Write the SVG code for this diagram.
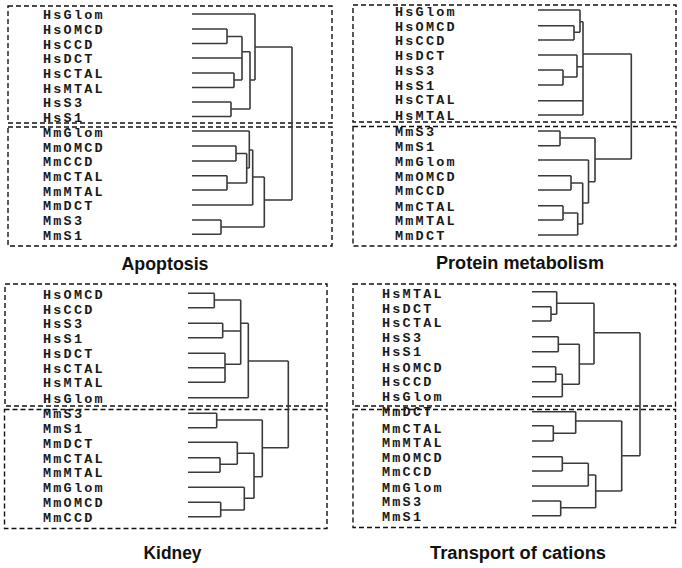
<svg xmlns="http://www.w3.org/2000/svg" width="682" height="568" viewBox="0 0 682 568">
<style>
.box{fill:none;stroke:#111;stroke-width:1.4;stroke-dasharray:5,3}
.tree{fill:none;stroke:#3a3a3a;stroke-width:1.6}
.lb{font-family:"Liberation Mono",monospace;font-weight:bold;font-size:13.5px;letter-spacing:2.2px;fill:#1a1a1a}
.tt{font-family:"Liberation Sans",Arial,sans-serif;font-weight:bold;font-size:17.5px;fill:#111;text-anchor:middle}
</style>
<rect width="682" height="568" fill="#fff"/>
<g id="boxes">
<rect class="box" x="8" y="6" width="324" height="117"/>
<rect class="box" x="8" y="127" width="324" height="119"/>
<rect class="box" x="353" y="5" width="323" height="117"/>
<rect class="box" x="353" y="126.5" width="323" height="119.5"/>
<rect class="box" x="5" y="284" width="322" height="122"/>
<rect class="box" x="4.5" y="409.5" width="322.5" height="119"/>
<rect class="box" x="353" y="284" width="322.5" height="122"/>
<rect class="box" x="353" y="409.5" width="322.5" height="118"/>
</g>
<g id="connectors" class="tree">
<path d="M192,14H255 M192,29H227 M192,43.5H227 M227,29V43.5 M227,36.5H242 M192,58H242 M192,73H234 M192,87.5H234 M234,73V87.5 M234,80H242 M242,36.5V80 M242,51.7H250 M192,102H231 M192,116.5H231 M231,102V116.5 M231,109H250 M250,51.7V109 M250,80H255 M255,14V80 M255,47H292"/>
<path d="M192,131H249.3 M192,146H236 M192,161H236 M236,146V161 M236,153.5H246.7 M192,175.7H227 M192,190H227 M227,175.7V190 M227,183H246.7 M246.7,153.5V183 M246.7,168H249.3 M249.3,131V168 M249.3,150H252.7 M192,205H252.7 M252.7,150V205 M252.7,177H264.3 M192,220H221 M192,234.3H221 M221,220V234.3 M221,227H264.3 M264.3,177V227 M264.3,200H292 M292,47V200"/>
<path d="M538,10H580 M538,25.7H574 M538,40H574 M574,25.7V40 M574,32.3H580 M580,10V32.3 M580,21.7H583 M538,55H577 M538,70H563 M538,85H563 M563,70V85 M563,77H577 M577,55V77 M577,66.7H583 M538,100.7H583 M538,115H583 M583,21.7V115 M583,54H631.3"/>
<path d="M538,131H560 M538,145.7H560 M560,131V145.7 M560,138H595 M538,160H588.5 M538,175.7H571 M538,190H571 M571,175.7V190 M571,183H582.7 M538,205.7H563 M538,220H563 M563,205.7V220 M563,213H577.7 M538,235H577.7 M577.7,213V235 M577.7,224H582.7 M582.7,183V224 M582.7,203H588.5 M588.5,160V203 M588.5,181.7H595 M595,138V181.7 M595,159H631.3 M631.3,54V159"/>
<path d="M188,293.3H214.3 M188,307.7H214.3 M214.3,293.3V307.7 M214.3,300H240.7 M188,323.3H222.7 M188,337.7H222.7 M222.7,323.3V337.7 M222.7,331H240.7 M188,353.3H225 M188,367.7H225 M188,382.3H225 M225,353.3V382.3 M225,364.3H240.7 M240.7,300V364.3 M240.7,323.3H248.3 M188,397.7H248.3 M248.3,323.3V397.7 M248.3,361H288.3"/>
<path d="M188,413.3H216.7 M188,427.7H216.7 M216.7,413.3V427.7 M216.7,420H262.3 M188,442.3H237.3 M188,457.7H220 M188,472.3H220 M220,457.7V472.3 M220,464.3H237.3 M237.3,442.3V464.3 M237.3,453.3H254 M188,487.3H244.3 M188,502.3H220.7 M188,516.7H220.7 M220.7,502.3V516.7 M220.7,510H244.3 M244.3,487.3V510 M244.3,498.3H254 M254,453.3V498.3 M254,476.7H262.3 M262.3,420V476.7 M262.3,447.7H288.3 M288.3,361V447.7"/>
<path d="M532,291.7H556.7 M532,306.7H551 M532,321H551 M551,306.7V321 M551,314.3H556.7 M556.7,291.7V314.3 M556.7,303.3H594 M532,336.7H558.3 M532,351.7H558.3 M558.3,336.7V351.7 M558.3,344.3H579.3 M532,366.7H555.7 M532,381.7H555.7 M555.7,366.7V381.7 M555.7,374.3H562.3 M532,396.7H562.3 M562.3,374.3V396.7 M562.3,384.3H579.3 M579.3,344.3V384.3 M579.3,364H594 M594,303.3V364 M594,332.7H640"/>
<path d="M532,411.7H575.7 M532,425.7H553.3 M532,441H553.3 M553.3,425.7V441 M553.3,433.3H575.7 M575.7,411.7V433.3 M575.7,421H621.7 M532,456.7H562.3 M532,471H562.3 M562.3,456.7V471 M562.3,463.3H588.3 M532,486H588.3 M588.3,463.3V486 M588.3,475H595.7 M532,501H560.7 M532,515.7H560.7 M560.7,501V515.7 M560.7,507.7H595.7 M595.7,475V507.7 M595.7,491H621.7 M621.7,421V491 M621.7,455.7H640 M640,332.7V455.7"/>
</g>
<g id="apoptosis-labels" class="lb">
<g id="a-HsGlom"><text x="43" y="19">HsGlom</text></g>
<g id="a-HsOMCD"><text x="43" y="34">HsOMCD</text></g>
<g id="a-HsCCD"><text x="43" y="48.5">HsCCD</text></g>
<g id="a-HsDCT"><text x="43" y="63">HsDCT</text></g>
<g id="a-HsCTAL"><text x="43" y="78">HsCTAL</text></g>
<g id="a-HsMTAL"><text x="43" y="92.5">HsMTAL</text></g>
<g id="a-HsS3"><text x="43" y="107">HsS3</text></g>
<g id="a-HsS1"><text x="43" y="121.5">HsS1</text></g>
<g id="a-MmGlom"><text x="43" y="137">MmGlom</text></g>
<g id="a-MmOMCD"><text x="43" y="151.5">MmOMCD</text></g>
<g id="a-MmCCD"><text x="43" y="166">MmCCD</text></g>
<g id="a-MmCTAL"><text x="43" y="181">MmCTAL</text></g>
<g id="a-MmMTAL"><text x="43" y="195.5">MmMTAL</text></g>
<g id="a-MmDCT"><text x="43" y="210">MmDCT</text></g>
<g id="a-MmS3"><text x="43" y="224.5">MmS3</text></g>
<g id="a-MmS1"><text x="43" y="239.5">MmS1</text></g>
</g>
<g id="protein-labels" class="lb">
<g id="p-HsGlom"><text x="395" y="16">HsGlom</text></g>
<g id="p-HsOMCD"><text x="395" y="30.5">HsOMCD</text></g>
<g id="p-HsCCD"><text x="395" y="45">HsCCD</text></g>
<g id="p-HsDCT"><text x="395" y="59.5">HsDCT</text></g>
<g id="p-HsS3"><text x="395" y="74.5">HsS3</text></g>
<g id="p-HsS1"><text x="395" y="89.5">HsS1</text></g>
<g id="p-HsCTAL"><text x="395" y="104">HsCTAL</text></g>
<g id="p-HsMTAL"><text x="395" y="119.5">HsMTAL</text></g>
<g id="p-MmS3"><text x="395" y="136">MmS3</text></g>
<g id="p-MmS1"><text x="395" y="150.5">MmS1</text></g>
<g id="p-MmGlom"><text x="395" y="165.5">MmGlom</text></g>
<g id="p-MmOMCD"><text x="395" y="180.5">MmOMCD</text></g>
<g id="p-MmCCD"><text x="395" y="195">MmCCD</text></g>
<g id="p-MmCTAL"><text x="395" y="210.5">MmCTAL</text></g>
<g id="p-MmMTAL"><text x="395" y="225">MmMTAL</text></g>
<g id="p-MmDCT"><text x="395" y="239.5">MmDCT</text></g>
</g>
<g id="kidney-labels" class="lb">
<g id="k-HsOMCD"><text x="43" y="299">HsOMCD</text></g>
<g id="k-HsCCD"><text x="43" y="313.5">HsCCD</text></g>
<g id="k-HsS3"><text x="43" y="328">HsS3</text></g>
<g id="k-HsS1"><text x="43" y="342.5">HsS1</text></g>
<g id="k-HsDCT"><text x="43" y="357.5">HsDCT</text></g>
<g id="k-HsCTAL"><text x="43" y="372.5">HsCTAL</text></g>
<g id="k-HsMTAL"><text x="43" y="387">HsMTAL</text></g>
<g id="k-HsGlom"><text x="43" y="402.5">HsGlom</text></g>
<g id="k-MmS3"><text x="43" y="418">MmS3</text></g>
<g id="k-MmS1"><text x="43" y="432.5">MmS1</text></g>
<g id="k-MmDCT"><text x="43" y="447.5">MmDCT</text></g>
<g id="k-MmCTAL"><text x="43" y="462.5">MmCTAL</text></g>
<g id="k-MmMTAL"><text x="43" y="477">MmMTAL</text></g>
<g id="k-MmGlom"><text x="43" y="492">MmGlom</text></g>
<g id="k-MmOMCD"><text x="43" y="507">MmOMCD</text></g>
<g id="k-MmCCD"><text x="43" y="522">MmCCD</text></g>
</g>
<g id="cations-labels" class="lb">
<g id="c-HsMTAL"><text x="382" y="297.5">HsMTAL</text></g>
<g id="c-HsDCT"><text x="382" y="312.5">HsDCT</text></g>
<g id="c-HsCTAL"><text x="382" y="327">HsCTAL</text></g>
<g id="c-HsS3"><text x="382" y="341.5">HsS3</text></g>
<g id="c-HsS1"><text x="382" y="356">HsS1</text></g>
<g id="c-HsOMCD"><text x="382" y="371.5">HsOMCD</text></g>
<g id="c-HsCCD"><text x="382" y="386">HsCCD</text></g>
<g id="c-HsGlom"><text x="382" y="401">HsGlom</text></g>
<g id="c-MmDCT"><text x="382" y="416">MmDCT</text></g>
<g id="c-MmCTAL"><text x="382" y="432.5">MmCTAL</text></g>
<g id="c-MmMTAL"><text x="382" y="447">MmMTAL</text></g>
<g id="c-MmOMCD"><text x="382" y="461.5">MmOMCD</text></g>
<g id="c-MmCCD"><text x="382" y="476">MmCCD</text></g>
<g id="c-MmGlom"><text x="382" y="491.5">MmGlom</text></g>
<g id="c-MmS3"><text x="382" y="506">MmS3</text></g>
<g id="c-MmS1"><text x="382" y="521">MmS1</text></g>
</g>
<g id="titles" class="tt">
<text x="165" y="270" textLength="87" lengthAdjust="spacingAndGlyphs">Apoptosis</text>
<text x="520" y="268.5" textLength="168" lengthAdjust="spacingAndGlyphs">Protein metabolism</text>
<text x="172.5" y="558.5" textLength="58" lengthAdjust="spacingAndGlyphs">Kidney</text>
<text x="518" y="559" textLength="176" lengthAdjust="spacingAndGlyphs">Transport of cations</text>
</g>
</svg>
